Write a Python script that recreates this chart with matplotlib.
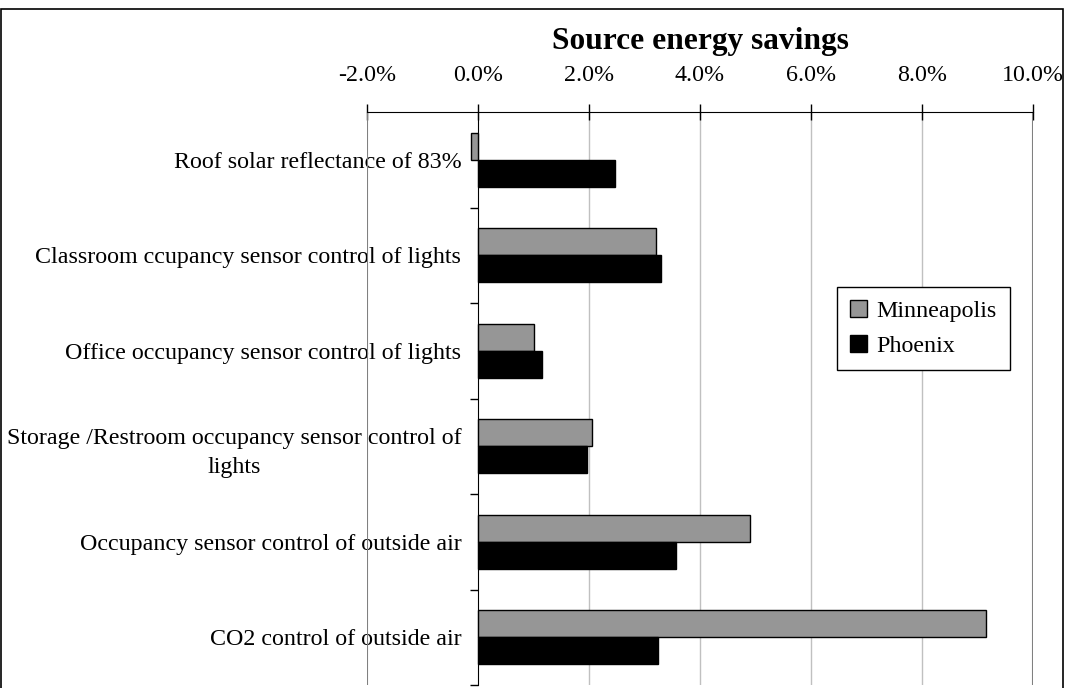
import matplotlib
matplotlib.use("Agg")
import matplotlib.pyplot as plt
from matplotlib.patches import Patch, Rectangle
from matplotlib.ticker import FuncFormatter, FixedLocator
import numpy as np

plt.rcParams["font.family"] = ["Liberation Serif", "DejaVu Serif"]

measures = [
    "Roof solar reflectance of 83%",
    "Classroom ccupancy sensor control of lights",
    "Office occupancy sensor control of lights",
    "Storage /Restroom occupancy sensor control of\nlights",
    "Occupancy sensor control of outside air",
    "CO2 control of outside air",
]
minneapolis = [-0.12, 3.20, 1.00, 2.05, 4.90, 9.15]
phoenix = [2.47, 3.30, 1.15, 1.97, 3.57, 3.24]

W, H = 1065, 688
FS = 17.3
fig = plt.figure(figsize=(W / 100, H / 100), dpi=100)
# plot area in pixels: x 367..1033, y 112..685
ax = fig.add_axes([367 / W, 3 / H, (1033 - 367) / W, (685 - 112) / H])

y = np.arange(len(measures))
h = 0.285
ax.barh(y - h / 2, minneapolis, height=h, color="#969696", edgecolor="black", lw=1, label="Minneapolis", zorder=3)
ax.barh(y + h / 2, phoenix, height=h, color="black", edgecolor="black", lw=1, label="Phoenix", zorder=3)

ax.set_xlim(-2, 10)
ax.set_ylim(len(measures) - 0.5, -0.5)

# value axis along the top
ax.xaxis.tick_top()
ax.set_xticks(np.arange(-2, 10.1, 2))
ax.xaxis.set_major_formatter(FuncFormatter(lambda v, p: f"{v:.1f}%"))
ax.tick_params(axis="x", direction="inout", length=12, width=1, labelsize=FS, pad=13, colors="black")
for v in [2, 4, 6, 8]:
    ax.axvline(v, color="#c0c0c0", lw=1, zorder=1)

# category axis crosses at zero
ax.spines["left"].set_position(("data", 0))
ax.spines["left"].set_color("black")
ax.spines["top"].set_color("black")
ax.spines["right"].set_visible(False)
ax.spines["bottom"].set_visible(False)
ax.axvline(-2, color="#808080", lw=1.5, zorder=2)
ax.axvline(10, color="#808080", lw=1.5, zorder=2)

ax.yaxis.set_major_locator(FixedLocator(np.arange(0.5, len(measures), 1)))
ax.yaxis.set_major_formatter(FuncFormatter(lambda v, p: ""))
ax.yaxis.set_minor_locator(FixedLocator(y))
ax.set_yticklabels(measures, minor=True, fontsize=FS, multialignment="center", linespacing=1.5)
ax.tick_params(axis="y", which="major", direction="out", length=6, width=1)
ax.tick_params(axis="y", which="minor", length=0, pad=12)

fig.text((367 + 1033) / 2 / W, 1 - 41 / H, "Source energy savings", ha="center", va="center",
         fontsize=22.6, fontweight="bold")

fig.legend(handles=[Patch(facecolor="#969696", edgecolor="black", label="Minneapolis"),
                    Patch(facecolor="black", edgecolor="black", label="Phoenix")],
           loc="upper left", bbox_to_anchor=(837 / W, 1 - 287 / H), fontsize=FS,
           frameon=True, fancybox=False, edgecolor="black", framealpha=1,
           handlelength=0.7, handleheight=0.7, handletextpad=0.4, borderpad=0.55,
           labelspacing=0.55, borderaxespad=0)

# outer chart border
fig.patches.append(Rectangle((1 / W, -0.05), (1062) / W, 1.05 - 9 / H, transform=fig.transFigure,
                             fill=False, edgecolor="black", lw=1.2))

fig.savefig("out.png", dpi=100)
